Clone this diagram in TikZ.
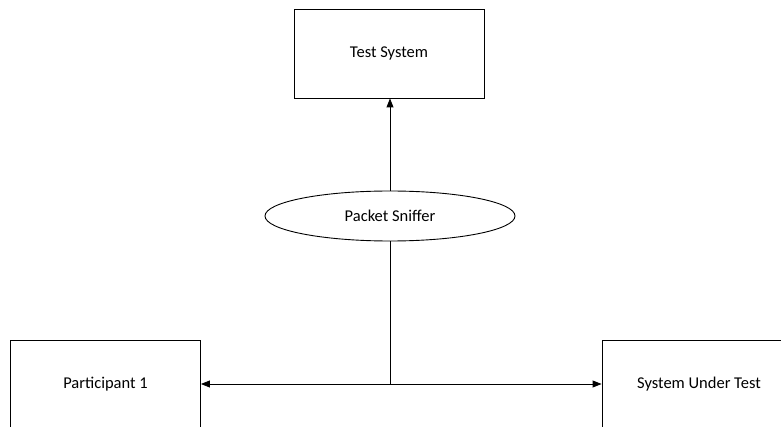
\documentclass[tikz,border=0pt]{standalone}
\usepackage{fontspec}
\setmainfont{Carlito}
\usetikzlibrary{shapes.geometric,arrows.meta}
\begin{document}
\begin{tikzpicture}[x=1pt,y=-1pt,
  box/.style={draw,line width=0.9pt,minimum width=190pt,minimum height=89pt,inner sep=0pt},
  conn/.style={line width=0.9pt},
  tip/.style={-{Triangle[length=9pt,width=7pt]}},
  every node/.style={font=\fontsize{16.5}{20}\selectfont}]
\useasboundingbox (0,0) rectangle (781,427);
\clip (0,0) rectangle (781,427);
\node[box] (ts) at (389,53.5) {Test System};
\node[draw,ellipse,line width=0.9pt,minimum width=250pt,minimum height=50pt,inner sep=0pt] (ps) at (390,216) {Packet Sniffer};
\node[box,minimum height=100pt] (p1) at (105.5,390) {};
\node at (105.5,384) {Participant 1};
\node[box,minimum width=200pt,minimum height=100pt] (sut) at (702,390) {};
\node at (699,384) {System Under Test};
\coordinate (j) at (390,384);
\draw[conn,tip] (ps.north) -- (ps.north |- ts.south);
\draw[conn] (ps.south) -- (j);
\draw[conn,tip] (j) -- (p1.east |- j);
\draw[conn,tip] (j) -- (sut.west |- j);
\end{tikzpicture}
\end{document}
